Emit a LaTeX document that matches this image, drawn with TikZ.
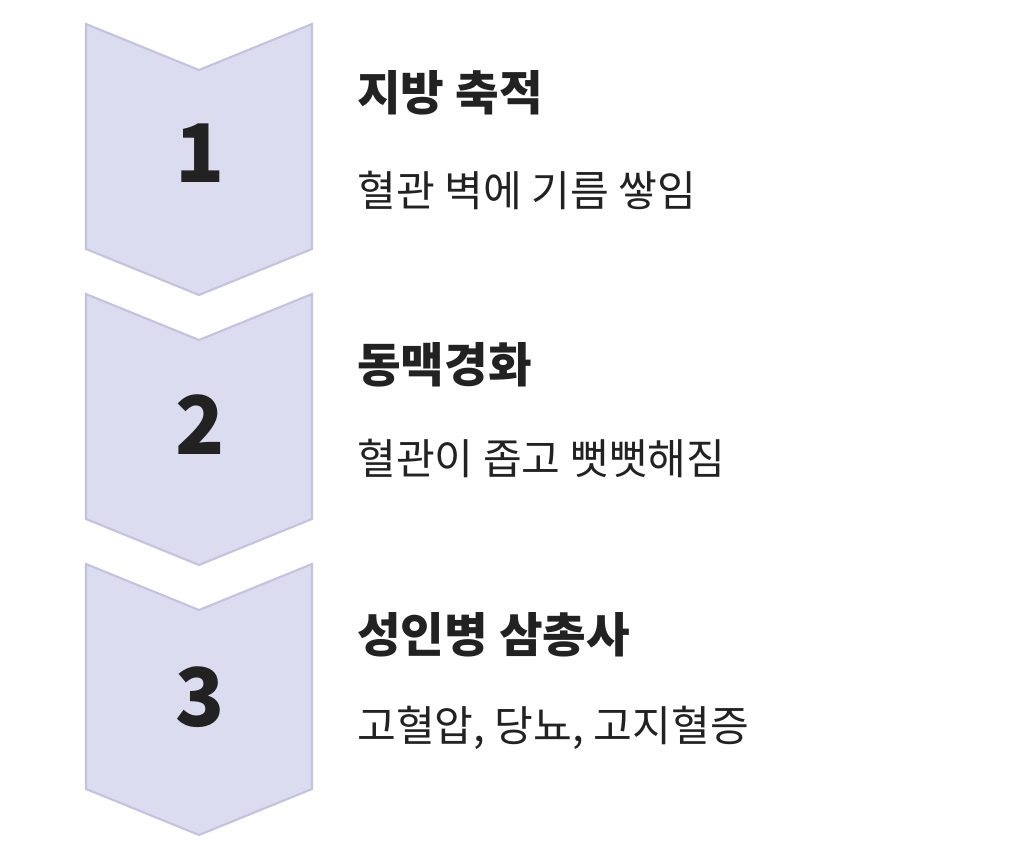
\documentclass[tikz,border=0pt]{standalone}
\usepackage{fontspec}
\usepackage{xcolor}
\usepackage{tikz}
\setmainfont{Noto Sans CJK KR}
\newfontfamily\krbold{Noto Sans CJK KR Black}
\definecolor{chevfill}{HTML}{DBDCEF}
\definecolor{chevline}{HTML}{C3C3DC}
\definecolor{ink}{HTML}{222222}
\tikzset{
  chev/.style={fill=chevfill,draw=chevline,line width=1.2pt,line join=miter},
  num/.style={font=\krbold\fontsize{46}{50}\selectfont,text=ink},
  ttl/.style={anchor=west,inner sep=0pt,font=\krbold\fontsize{27}{30}\selectfont,text=ink},
  sub/.style={anchor=west,inner sep=0pt,font=\fontsize{24}{30}\selectfont,text=ink}
}

\begin{document}
\begin{tikzpicture}[x=0.02cm,y=-0.02cm]
\useasboundingbox (0,0) rectangle (1032,862);

\draw[chev] (86,24) -- (199,70) -- (312,24) -- (312,249) -- (199,295) -- (86,249) -- cycle;
\draw[chev] (86,294) -- (199,340) -- (312,294) -- (312,519) -- (199,565) -- (86,519) -- cycle;
\draw[chev] (86,564) -- (199,610) -- (312,564) -- (312,789) -- (199,835) -- (86,789) -- cycle;

\node[num] (n1) at (200,153) {1};
\node[num] (n2) at (200,425) {2};
\node[num] (n3) at (200,697) {3};

\node[ttl] (t1) at (357,93) {지방 축적};
\node[sub] (s1) at (357,190) {혈관 벽에 기름 쌓임};
\node[ttl] (t2) at (357,365) {동맥경화};
\node[sub] (s2) at (357,458) {혈관이 좁고 뻣뻣해짐};
\node[ttl] (t3) at (357,635) {성인병 삼총사};
\node[sub] (s3) at (357,728) {고혈압, 당뇨, 고지혈증};
\end{tikzpicture}
\end{document}
